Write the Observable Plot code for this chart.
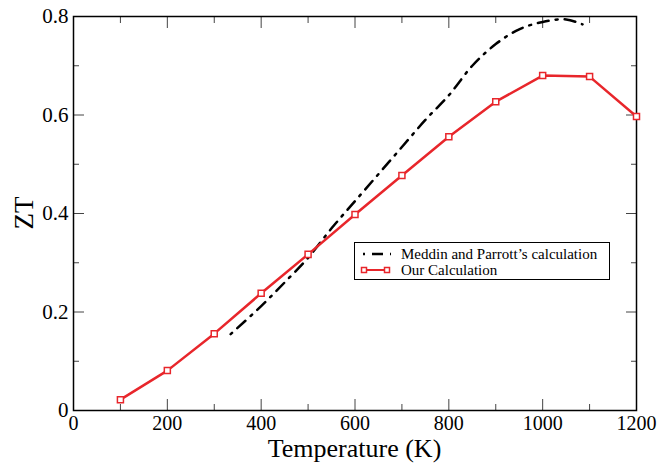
<!DOCTYPE html>
<html>
<head>
<meta charset="utf-8">
<script src="https://cdn.jsdelivr.net/npm/d3@7"></script>
<script src="https://cdn.jsdelivr.net/npm/@observablehq/plot@0.6"></script>
<style>
  body { margin: 0; background: #fff; }
  #wrap { position: relative; width: 661px; height: 463px; font-family: "Liberation Serif", "Times New Roman", Tinos, "DejaVu Serif", serif; }
  #wrap svg text { font-family: "Liberation Serif", "Times New Roman", Tinos, "DejaVu Serif", serif; }
  #legend { position: absolute; left: 354px; top: 242px; width: 256px; height: 38px; border: 1px solid #000; background: #fff; box-sizing: border-box; font-size: 15px; }
  #legend .row { position: absolute; left: 0; height: 16px; display: flex; align-items: center; white-space: nowrap; }
  #legend svg { margin-left: 5px; margin-right: 9px; }
</style>
</head>
<body>
<div id="wrap">
  <div id="chart"></div>
  <div id="legend">
    <div class="row" style="top:3px"><svg width="32" height="12"><line x1="3" y1="6" x2="31" y2="6" stroke="#000" stroke-width="2.5" stroke-dasharray="2,7,11,7"/></svg><span>Meddin and Parrott’s calculation</span></div>
    <div class="row" style="top:19px"><svg width="32" height="12"><line x1="4" y1="6" x2="27" y2="6" stroke="#e8262b" stroke-width="2"/><rect x="1.5" y="3.5" width="5" height="5" fill="#fff" stroke="#e8262b" stroke-width="1.5"/><rect x="24.5" y="3.5" width="5" height="5" fill="#fff" stroke="#e8262b" stroke-width="1.5"/></svg><span>Our Calculation</span></div>
  </div>
</div>
<script>
// Our Calculation (red)
const ourT = [100, 200, 300, 400, 500, 600, 700, 800, 900, 1000, 1100, 1200];
const ourZT = [0.022, 0.081, 0.156, 0.238, 0.317, 0.398, 0.477, 0.556, 0.627, 0.680, 0.678, 0.597];
// Meddin and Parrott's calculation (black dash-dot)
const mpT = [335, 400, 450, 500, 550, 600, 650, 700, 750, 800, 850, 900, 950, 1000, 1050, 1085];
const mpZT = [0.155, 0.212, 0.26, 0.31, 0.37, 0.425, 0.48, 0.535, 0.59, 0.64, 0.70, 0.744, 0.774, 0.789, 0.794, 0.784];
// ticks
const xMajor = [0, 200, 400, 600, 800, 1000, 1200];
const xMinor = [100, 300, 500, 700, 900, 1100];
const yMajor = [0, 0.2, 0.4, 0.6, 0.8];
const yMinor = [0.1, 0.3, 0.5, 0.7];

const ours = ourT.map((t, i) => ({T: t, ZT: ourZT[i]}));
const mp = mpT.map((t, i) => ({T: t, ZT: mpZT[i]}));

const serif = '"Liberation Serif", "Times New Roman", Tinos, "DejaVu Serif", serif';
const tickStroke = "#444";
const chart = Plot.plot({
  width: 661,
  height: 463,
  marginLeft: 73,
  marginRight: 25,
  marginTop: 16,
  marginBottom: 53,
  style: {fontFamily: serif, background: "#fff", color: "#000"},
  x: {domain: [0, 1200]},
  y: {domain: [0, 0.8]},
  marks: [
    // labels
    Plot.axisX(xMajor, {anchor: "bottom", tickSize: 0, tickPadding: 5, fontSize: 20, tickFormat: d => String(d), label: null}),
    Plot.axisY(yMajor, {anchor: "left", tickSize: 0, tickPadding: 5, fontSize: 21, tickFormat: d => String(d), label: null}),
    // inward ticks
    Plot.axisX(xMajor, {anchor: "bottom", tickSize: -11, text: null, stroke: tickStroke, label: null}),
    Plot.axisX(xMinor, {anchor: "bottom", tickSize: -6, text: null, stroke: tickStroke, label: null}),
    Plot.axisX(xMajor, {anchor: "top", tickSize: -11, text: null, stroke: tickStroke, label: null}),
    Plot.axisX(xMinor, {anchor: "top", tickSize: -6, text: null, stroke: tickStroke, label: null}),
    Plot.axisY(yMajor, {anchor: "left", tickSize: -11, text: null, stroke: tickStroke, label: null}),
    Plot.axisY(yMinor, {anchor: "left", tickSize: -6, text: null, stroke: tickStroke, label: null}),
    Plot.axisY(yMajor, {anchor: "right", tickSize: -11, text: null, stroke: tickStroke, label: null}),
    Plot.axisY(yMinor, {anchor: "right", tickSize: -6, text: null, stroke: tickStroke, label: null}),
    Plot.frame({stroke: "#000", strokeWidth: 1.5}),
    Plot.line(mp, {x: "T", y: "ZT", stroke: "#000", strokeWidth: 2.5, strokeDasharray: "2,7,11,7", curve: "catmull-rom"}),
    Plot.line(ours, {x: "T", y: "ZT", stroke: "#e8262b", strokeWidth: 2.5}),
    Plot.dot(ours, {x: "T", y: "ZT", symbol: "square", r: 3.4, fill: "#fff", stroke: "#e8262b", strokeWidth: 1.5})
  ]
});

// axis titles as text in the SVG
const svg = d3.select(chart);
svg.append("text")
  .attr("x", (73 + 636) / 2).attr("y", 457)
  .attr("text-anchor", "middle")
  .attr("font-size", 26).attr("fill", "#000")
  .attr("font-family", serif)
  .text("Temperature (K)");
svg.append("text")
  .attr("transform", `translate(33,${(16 + 410) / 2}) rotate(-90)`)
  .attr("text-anchor", "middle")
  .attr("font-size", 27).attr("fill", "#000")
  .attr("font-family", serif)
  .text("ZT");

document.getElementById("chart").appendChild(chart);
</script>
</body>
</html>
